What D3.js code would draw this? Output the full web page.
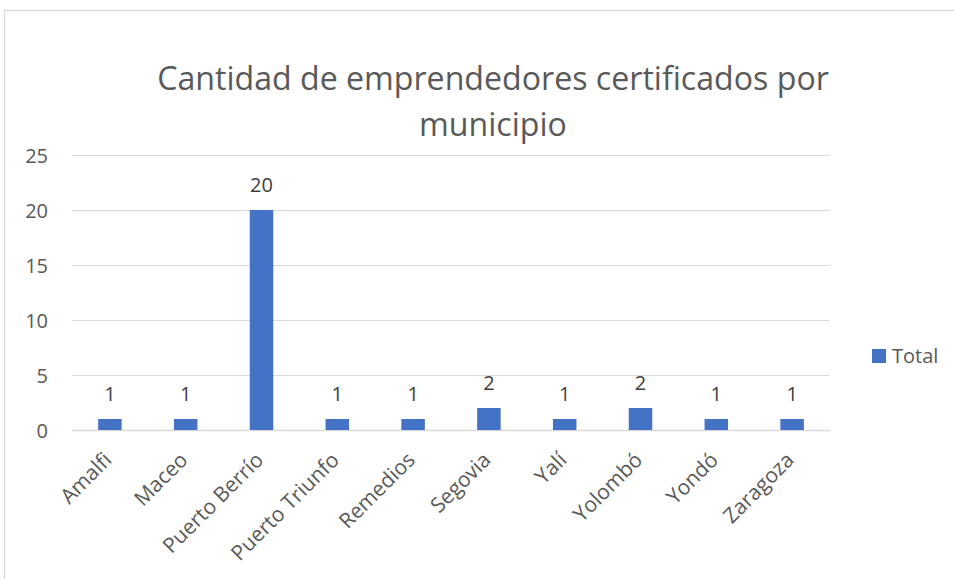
<!DOCTYPE html>
<html>
<head>
<meta charset="utf-8">
<script src="https://cdn.jsdelivr.net/npm/d3@7"></script>
<style>
  html, body { margin: 0; padding: 0; background: #fff; }
  svg { display: block; font-family: "Open Sans", sans-serif; }
</style>
</head>
<body>
<svg id="chart" width="954" height="579"></svg>
<script>
// Municipalities and number of certified entrepreneurs in each
const categories = ["Amalfi", "Maceo", "Puerto Berrío", "Puerto Triunfo", "Remedios",
                    "Segovia", "Yalí", "Yolombó", "Yondó", "Zaragoza"];
const totals = [1, 1, 20, 1, 1, 2, 1, 2, 1, 1];
const yTicks = [0, 5, 10, 15, 20, 25];
const titleLines = ["Cantidad de emprendedores certificados por", "municipio"];
const seriesName = "Total";

const plot = { left: 72, right: 830, top: 155, bottom: 430 };
const barColor = "#4472C4";
const gridColor = "#d9d9d9";
const textColor = "#595959";

const svg = d3.select("#chart");

// Outer chart frame
svg.append("rect")
  .attr("x", 4.5).attr("y", 10.5)
  .attr("width", 1000).attr("height", 1000)
  .attr("fill", "#fff").attr("stroke", gridColor).attr("stroke-width", 1.2);

// Title, two centered lines, sized so the first line spans 672px
const title = svg.append("g").attr("fill", textColor);
titleLines.forEach((line, i) => {
  title.append("text")
    .attr("x", 493).attr("y", 90 + i * 46)
    .attr("text-anchor", "middle")
    .attr("font-size", 31)
    .text(line);
});
const firstW = title.select("text").node().getComputedTextLength();
title.selectAll("text").attr("font-size", 31 * 672 / firstW);

// Scales
const x = d3.scaleBand().domain(categories).range([plot.left, plot.right]).padding(0);
const y = d3.scaleLinear().domain([0, 25]).range([plot.bottom, plot.top]);
const barW = x.step() * 0.31;

// Horizontal gridlines
svg.append("g")
  .selectAll("line")
  .data(yTicks)
  .join("line")
  .attr("x1", plot.left).attr("x2", plot.right)
  .attr("y1", d => Math.round(y(d)) + 0.5).attr("y2", d => Math.round(y(d)) + 0.5)
  .attr("stroke", gridColor)
  .attr("stroke-width", d => d === 0 ? 1.5 : 1);

// Y axis labels
const yAxis = d3.axisLeft(y).tickValues(yTicks).tickSize(0).tickPadding(0);
const yg = svg.append("g").attr("transform", `translate(${plot.left - 24},0)`).call(yAxis);
yg.select(".domain").remove();
yg.selectAll("text")
  .attr("font-family", "Open Sans, sans-serif")
  .attr("font-size", 20).attr("fill", textColor).attr("dy", "0.35em");

// Bars
svg.append("g")
  .selectAll("rect")
  .data(categories)
  .join("rect")
  .attr("x", d => x(d) + (x.step() - barW) / 2)
  .attr("width", barW)
  .attr("y", (d, i) => y(totals[i]))
  .attr("height", (d, i) => y(0) - y(totals[i]))
  .attr("fill", barColor);

// Value labels above bars
svg.append("g")
  .selectAll("text")
  .data(categories)
  .join("text")
  .attr("x", d => x(d) + x.step() / 2)
  .attr("y", (d, i) => y(totals[i]) - 18)
  .attr("text-anchor", "middle")
  .attr("font-size", 20)
  .attr("fill", "#404040")
  .text((d, i) => totals[i]);

// Rotated category labels
const xAxis = d3.axisBottom(x).tickSize(0).tickPadding(0);
const xg = svg.append("g").attr("transform", `translate(0,${plot.bottom})`).call(xAxis);
xg.select(".domain").remove();
xg.selectAll("text")
  .attr("font-family", "Open Sans, sans-serif")
  .attr("font-size", 21)
  .attr("fill", textColor)
  .attr("text-anchor", "end")
  .attr("dy", "0.35em")
  .attr("transform", "translate(-2,26) rotate(-45)");

// Legend
const legend = svg.append("g").attr("transform", "translate(872,349)");
legend.append("rect").attr("width", 14).attr("height", 14).attr("fill", barColor);
legend.append("text").attr("x", 20).attr("y", 14)
  .attr("font-size", 20).attr("fill", textColor).text(seriesName);
</script>
</body>
</html>
